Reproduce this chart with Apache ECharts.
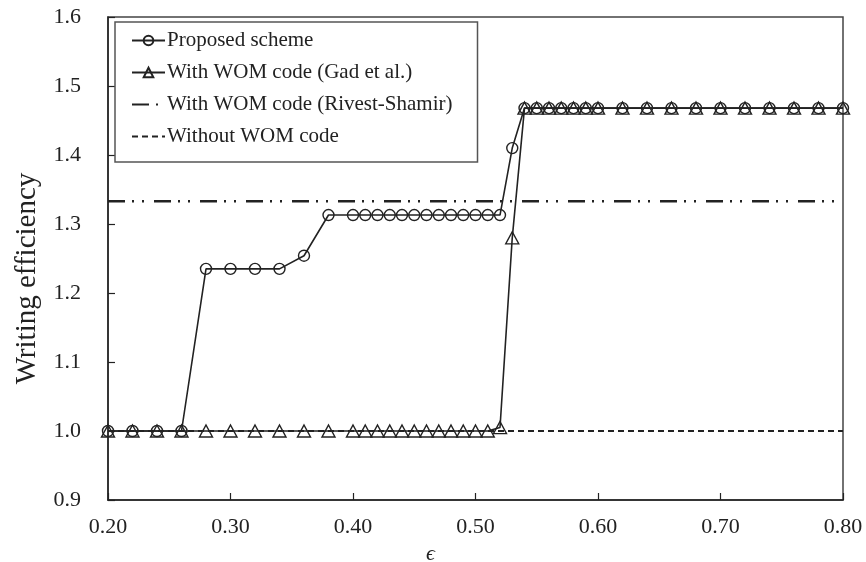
<!DOCTYPE html>
<html>
<head>
<meta charset="utf-8">
<script src="https://cdn.jsdelivr.net/npm/echarts@6/dist/echarts.min.js"></script>
<style>
  html, body { margin: 0; padding: 0; background: #fff; }
  #chart { width: 866px; height: 562px; }
</style>
</head>
<body>
<div id="chart"></div>
<script>
// epsilon values where the markers sit
const eps = [0.20, 0.22, 0.24, 0.26, 0.28, 0.30, 0.32, 0.34, 0.36, 0.38, 0.40,
  0.41, 0.42, 0.43, 0.44, 0.45, 0.46, 0.47, 0.48, 0.49, 0.50, 0.51, 0.52, 0.53,
  0.54, 0.55, 0.56, 0.57, 0.58, 0.59, 0.60,
  0.62, 0.64, 0.66, 0.68, 0.70, 0.72, 0.74, 0.76, 0.78, 0.80]

const proposed = [1.0, 1.0, 1.0, 1.0, 1.235, 1.235, 1.235, 1.235, 1.254, 1.313, 1.313,
  1.313, 1.313, 1.313, 1.313, 1.313, 1.313, 1.313, 1.313, 1.313, 1.313, 1.313, 1.313, 1.41,
  1.468, 1.468, 1.468, 1.468, 1.468, 1.468, 1.468,
  1.468, 1.468, 1.468, 1.468, 1.468, 1.468, 1.468, 1.468, 1.468, 1.468]

const gad = [1.0, 1.0, 1.0, 1.0, 1.0, 1.0, 1.0, 1.0, 1.0, 1.0, 1.0,
  1.0, 1.0, 1.0, 1.0, 1.0, 1.0, 1.0, 1.0, 1.0, 1.0, 1.0, 1.005, 1.28,
  1.468, 1.468, 1.468, 1.468, 1.468, 1.468, 1.468,
  1.468, 1.468, 1.468, 1.468, 1.468, 1.468, 1.468, 1.468, 1.468, 1.468]

const rivestX = [0.20, 0.80]
const rivest = [1.333, 1.333]
const withoutX = [0.20, 0.80]
const without = [1.0, 1.0]

const xTicks = ['0.20', '0.30', '0.40', '0.50', '0.60', '0.70', '0.80']
const yTicks = ['0.9', '1.0', '1.1', '1.2', '1.3', '1.4', '1.5', '1.6']

const names = ['Proposed scheme', 'With WOM code (Gad et al.)', 'With WOM code (Rivest-Shamir)', 'Without WOM code']

function pairs(xs, ys) {
  return xs.map((x, i) => [x, ys[i]])
}

const ink = '#222'
const serif = '"Liberation Serif", "DejaVu Serif", serif'

const chart = echarts.init(document.getElementById('chart'))

const option = {
  animation: false,
  backgroundColor: '#fff',
  textStyle: { fontFamily: serif },
  grid: {
    left: 108,
    right: 23,
    top: 17,
    bottom: 62,
    outerBoundsMode: 'none',
    containLabel: false,
    show: true,
    borderColor: '#444',
    borderWidth: 1.5
  },
  legend: {
    data: [
      { name: names[0] },
      { name: names[1] },
      { name: names[2], itemStyle: { opacity: 0 } },
      { name: names[3], itemStyle: { opacity: 0 } }
    ],
    orient: 'vertical',
    left: 115,
    top: 22,
    padding: [8, 25, 15, 16],
    itemGap: 11,
    itemWidth: 33,
    itemHeight: 12,
    borderColor: '#555',
    borderWidth: 1.5,
    backgroundColor: '#fff',
    textStyle: {
      fontFamily: serif,
      fontSize: 21,
      color: ink,
      lineHeight: 21,
      padding: [0, 0, 0, -3]
    }
  },
  xAxis: {
    type: 'value',
    min: 0.2,
    max: 0.8,
    interval: 0.1,
    name: 'ϵ',
    nameLocation: 'middle',
    nameGap: 43,
    nameTextStyle: {
      fontFamily: serif,
      fontStyle: 'italic',
      fontSize: 22,
      color: ink,
      padding: [0, 90, 0, 0]
    },
    axisLine: { lineStyle: { color: ink, width: 1.5 } },
    axisTick: { inside: true, length: 7, lineStyle: { color: ink, width: 1.2 } },
    splitLine: { show: false },
    axisLabel: {
      margin: 16,
      fontSize: 22,
      color: ink,
      fontFamily: serif,
      formatter: (v) => xTicks[Math.round((v - 0.2) * 10)]
    }
  },
  yAxis: {
    type: 'value',
    min: 0.9,
    max: 1.6,
    interval: 0.1,
    name: 'Writing efficiency',
    nameLocation: 'middle',
    nameGap: 66,
    nameTextStyle: {
      fontFamily: serif,
      fontSize: 29,
      color: ink,
      padding: [0, 40, 0, 0]
    },
    axisLine: { lineStyle: { color: ink, width: 1.5 } },
    axisTick: { inside: true, length: 7, lineStyle: { color: ink, width: 1.2 } },
    splitLine: { show: false },
    axisLabel: {
      margin: 27,
      fontSize: 22,
      color: ink,
      fontFamily: serif,
      formatter: (v) => yTicks[Math.round((v - 0.9) * 10)]
    }
  },
  series: [
    {
      name: names[0],
      type: 'line',
      data: pairs(eps, proposed),
      symbol: 'circle',
      symbolSize: 11,
      z: 4,
      itemStyle: { color: 'rgba(255,255,255,0)', borderColor: ink, borderWidth: 1.4 },
      lineStyle: { color: ink, width: 1.6 }
    },
    {
      name: names[1],
      type: 'line',
      data: pairs(eps, gad),
      symbol: 'triangle',
      symbolSize: [13, 12],
      z: 3,
      itemStyle: { color: 'rgba(255,255,255,0)', borderColor: ink, borderWidth: 1.4 },
      lineStyle: { color: ink, width: 1.6 }
    },
    {
      name: names[2],
      type: 'line',
      data: pairs(rivestX, rivest),
      symbol: 'none',
      z: 2,
      itemStyle: { color: ink },
      lineStyle: { color: ink, width: 2.5, type: [17, 7, 2, 8, 2, 10] }
    },
    {
      name: names[3],
      type: 'line',
      data: pairs(withoutX, without),
      symbol: 'none',
      z: 2,
      itemStyle: { color: ink },
      lineStyle: { color: ink, width: 2, type: [6, 4] }
    }
  ]
}

chart.setOption(option)
</script>
</body>
</html>
